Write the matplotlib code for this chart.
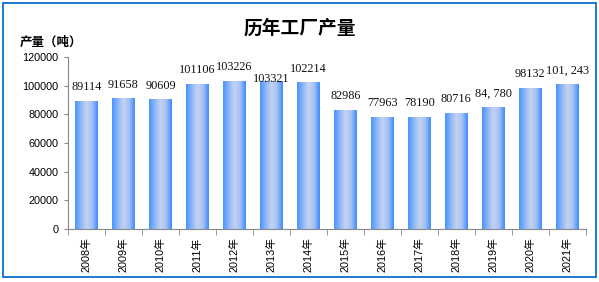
import numpy as np
import matplotlib.pyplot as plt
from matplotlib.colors import LinearSegmentedColormap
from matplotlib.patches import Rectangle

years = ["2008年", "2009年", "2010年", "2011年", "2012年", "2013年", "2014年",
         "2015年", "2016年", "2017年", "2018年", "2019年", "2020年", "2021年"]
output = [89114, 91658, 90609, 101106, 103226, 103321, 102214,
          82986, 77963, 78190, 80716, 84780, 98132, 101243]
value_labels = ["89114", "91658", "90609", "101106", "103226", "103321", "102214",
                "82986", "77963", "78190", "80716", "84, 780", "98132", "101, 243"]
label_offsets = [14, 13, 13, 14, 14, 2, 13, 14, 14, 14, 14, 14, 14, 13]

cjk = ["Liberation Sans", "Noto Sans CJK SC"]

fig = plt.figure(figsize=(5.99, 2.82), dpi=100)
# outer chart frame, slightly inset like the original
fig.patches.append(Rectangle((2.5 / 599, 5 / 282), 593.5 / 599, 274.5 / 282,
                             transform=fig.transFigure, fill=False,
                             edgecolor="#1a7bd0", linewidth=1.4))
ax = fig.add_axes([0.1135, 0.188, 0.8645, 0.61])

grad = LinearSegmentedColormap.from_list(
    "bar", ["#4795ff", "#8fb6f6", "#c4d3f0", "#a6c2f4", "#3e8bff"])
g = np.linspace(0, 1, 64).reshape(1, -1)

x = np.arange(len(years))
bars = ax.bar(x, output, width=0.6, color="none", edgecolor="none")
for b in bars:
    im = ax.imshow(g, cmap=grad, aspect="auto", interpolation="bicubic",
                   extent=[b.get_x(), b.get_x() + b.get_width(), 0, b.get_height()],
                   zorder=2)
    im.set_clip_path(b)

for xi, v, lab, off in zip(x, output, value_labels, label_offsets):
    ax.annotate(lab, (xi, v), xytext=(0, off), textcoords="offset pixels",
                ha="center", va="center", fontsize=8.8,
                family="Liberation Serif", color="#111111", zorder=3)

ax.set_xlim(-0.5, len(years) - 0.5)
ax.set_ylim(0, 120000)
ax.set_yticks(range(0, 120001, 20000))
ax.set_yticklabels([str(t) for t in range(0, 120001, 20000)],
                   family="Liberation Sans", fontsize=7.8)
ax.set_xticks(x)
ax.set_xticklabels(years, rotation=90, family=cjk, fontsize=7.8)
ax.set_xticks(np.arange(-0.5, len(years)), minor=True)
ax.tick_params(axis="x", which="major", length=0, pad=6)
ax.tick_params(axis="x", which="minor", length=4, color="#888888", direction="out")
ax.tick_params(axis="y", length=3, color="#888888", pad=4)

for s in ["top", "right"]:
    ax.spines[s].set_visible(False)
for s in ["left", "bottom"]:
    ax.spines[s].set_color("#888888")

fig.text(0.5, 0.9, "历年工厂产量", ha="center", va="center",
         fontsize=13.5, fontweight="bold", family="Noto Sans CJK SC")
fig.text(0.033, 0.851, "产量（吨）", ha="left", va="center",
         fontsize=9, fontweight="bold", family="Noto Sans CJK SC")

fig.savefig("out.png", dpi=100)
